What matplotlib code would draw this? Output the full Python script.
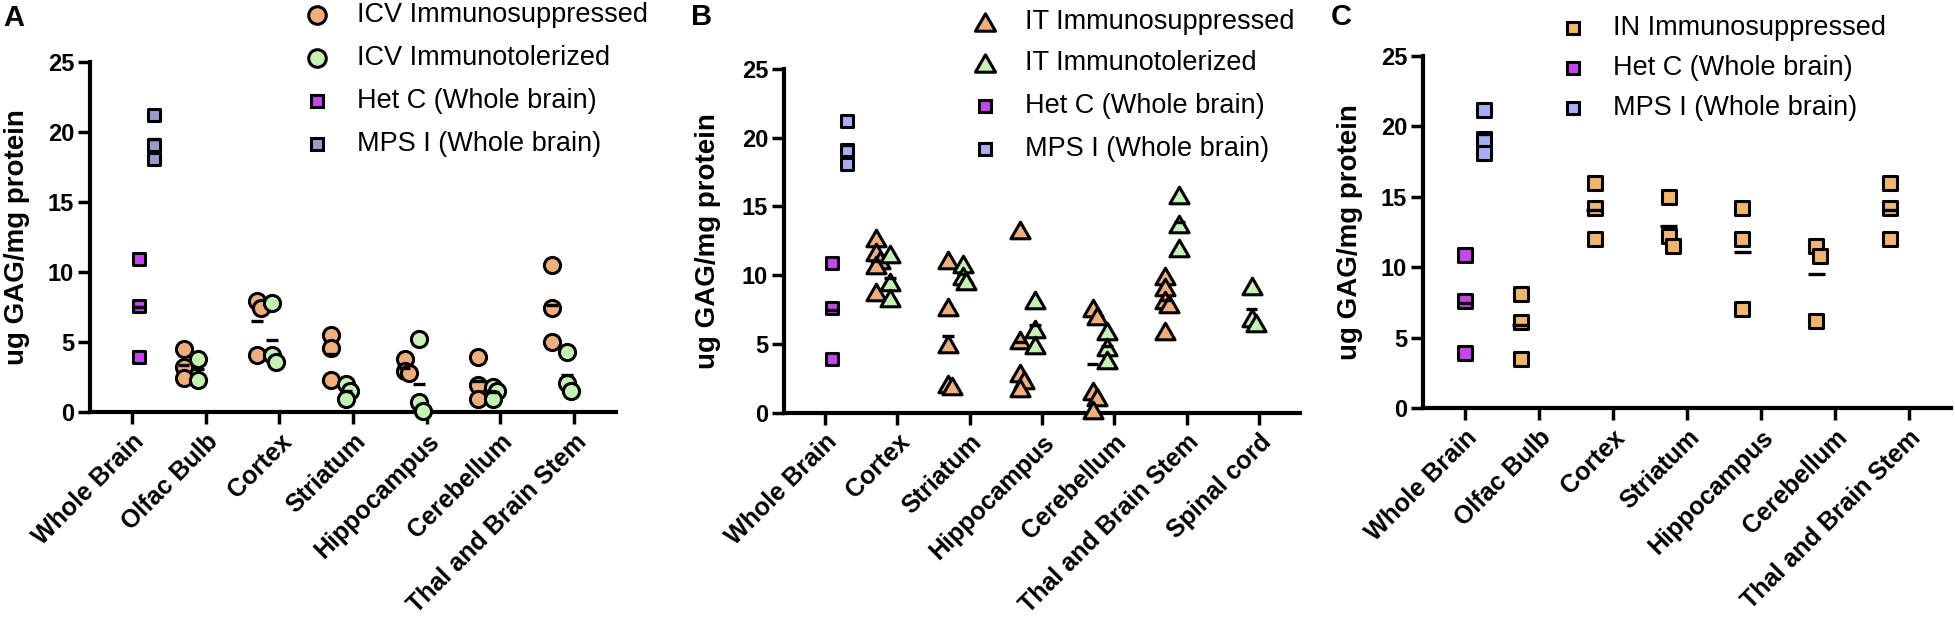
import numpy as np
import matplotlib.pyplot as plt
from matplotlib.lines import Line2D
from matplotlib.path import Path

plt.rcParams['font.family'] = ['Liberation Sans', 'DejaVu Sans']

# x categories
regions_ac = ['Whole Brain', 'Olfac Bulb', 'Cortex', 'Striatum',
              'Hippocampus', 'Cerebellum', 'Thal and Brain Stem']
regions_b = ['Whole Brain', 'Cortex', 'Striatum', 'Hippocampus',
             'Cerebellum', 'Thal and Brain Stem', 'Spinal cord']

# whole brain controls, same in every panel
het_c = [10.9, 7.6, 3.9]
mps_i = [21.2, 19.1, 18.1]

# A - ICV
icv_supp = {
    'Olfac Bulb': [4.5, 3.2, 2.4],
    'Cortex': [7.9, 7.4, 4.1],
    'Striatum': [5.5, 4.6, 2.3],
    'Hippocampus': [3.8, 2.9, 2.8],
    'Cerebellum': [3.9, 1.9, 0.9],
    'Thal and Brain Stem': [10.5, 7.4, 5.0],
}
icv_tol = {
    'Olfac Bulb': [3.8, 2.3],
    'Cortex': [7.8, 4.1, 3.6],
    'Striatum': [2.0, 1.5, 0.9],
    'Hippocampus': [5.2, 0.7, 0.1],
    'Cerebellum': [1.8, 1.5, 0.9],
    'Thal and Brain Stem': [4.3, 2.1, 1.5],
}

# B - IT
it_supp = {
    'Cortex': [12.7, 11.7, 11.1, 10.7, 8.8],
    'Striatum': [11.1, 7.7, 5.0, 2.1, 1.9],
    'Hippocampus': [13.3, 5.3, 2.9, 2.4, 1.8],
    'Cerebellum': [7.6, 7.0, 1.6, 1.1, 0.2],
    'Thal and Brain Stem': [9.9, 9.1, 8.2, 7.9, 5.9],
}
it_tol = {
    'Cortex': [11.5, 9.5, 8.3],
    'Striatum': [10.8, 9.9, 9.6],
    'Hippocampus': [8.2, 6.1, 4.9],
    'Cerebellum': [5.9, 4.8, 3.8],
    'Thal and Brain Stem': [15.8, 13.7, 12.0],
    'Spinal cord': [9.2, 6.9, 6.5],
}

# C - IN
in_supp = {
    'Olfac Bulb': [8.1, 6.1, 3.5],
    'Cortex': [16.0, 14.2, 12.0],
    'Striatum': [15.0, 12.2, 11.5],
    'Hippocampus': [14.2, 12.0, 7.0],
    'Cerebellum': [11.5, 10.8, 6.2],
    'Thal and Brain Stem': [16.0, 14.2, 12.0],
}

W, H = 1955, 626

orange = '#F2AE78'
orange_c = '#F3B666'
green = '#C2F3B0'
purple = '#C844F2'
mps_a = '#9A9AD0'
mps_bc = '#A6AEF8'

tri = Path([(0, 0.866), (-1, -0.866), (1, -0.866), (0, 0.866)],
           [Path.MOVETO, Path.LINETO, Path.LINETO, Path.CLOSEPOLY])


def spread(vals, step=0.055, gap=0.8):
    # small sideways shift for points that would sit on top of each other
    placed, offs = [], []
    for v in vals:
        for k in (0, 1, -1, 2, -2, 3, -3):
            o = k * step
            if all(abs(v - pv) >= gap or abs(o - po) > step * 0.5 for pv, po in placed):
                break
        placed.append((v, o))
        offs.append(o)
    return np.array(offs)


def draw_panel(ax, regions, series, half_w):
    for i, (data, off, marker, size, color) in enumerate(series):
        for name, vals in data.items():
            x0 = regions.index(name) + off
            ax.scatter(x0 + spread(vals), vals, s=size, marker=marker, c=color,
                       edgecolors='black', linewidths=2.2, zorder=3 + 2 * i,
                       clip_on=False)
            ax.hlines(np.mean(vals), x0 - half_w, x0 + half_w, colors='black',
                      linewidth=2.4, zorder=4 + 2 * i)

    ax.set_xlim(-0.57, len(regions) - 0.43)
    ax.set_ylim(0, 25)
    ax.set_yticks(range(0, 26, 5))
    ax.set_xticks(range(len(regions)))
    ax.set_xticklabels(regions, rotation=45, ha='right', va='top',
                       rotation_mode='anchor', fontsize=18, fontweight='bold')
    for lab in ax.get_yticklabels():
        lab.set_fontweight('bold')
        lab.set_fontsize(17)
    for s in ['top', 'right']:
        ax.spines[s].set_visible(False)
    for s in ['left', 'bottom']:
        ax.spines[s].set_linewidth(3)
        ax.spines[s].set_capstyle('projecting')
    ax.tick_params(length=8.5, width=2.5, direction='out')
    ax.tick_params(axis='x', pad=4)
    ax.tick_params(axis='y', pad=3)


def legend(fig, entries, xm, xt, rows):
    for (label, marker, size, color), y in zip(entries, rows):
        fig.add_artist(Line2D([xm / W], [1 - y / H], transform=fig.transFigure,
                              marker=marker, markersize=np.sqrt(size),
                              markerfacecolor=color, markeredgecolor='black',
                              markeredgewidth=2.2, linestyle='none'))
        fig.text(xt / W, 1 - y / H, label, fontsize=19.5, ha='left', va='center')


fig = plt.figure(figsize=(W / 100, H / 100), dpi=100)

# panel A
ax_a = fig.add_axes([90 / W, 1 - 412 / H, 526 / W, 350 / H])
series_a = [
    (icv_supp, -0.3, 'o', 135, orange),
    (icv_tol, -0.1, 'o', 135, green),
    ({'Whole Brain': het_c}, 0.1, 's', 85, purple),
    ({'Whole Brain': mps_i}, 0.3, 's', 85, mps_a),
]
draw_panel(ax_a, regions_ac, series_a, 0.08)
legend(fig, [('ICV Immunosuppressed', 'o', 160, orange),
             ('ICV Immunotolerized', 'o', 160, green),
             ('Het C (Whole brain)', 's', 85, purple),
             ('MPS I (Whole brain)', 's', 85, mps_a)],
       317, 357, [15, 58, 101, 144])

# panel B
ax_b = fig.add_axes([784 / W, 1 - 412.5 / H, 516 / W, 343.5 / H])
series_b = [
    (it_supp, -0.3, tri, 190, orange),
    (it_tol, -0.1, tri, 190, green),
    ({'Whole Brain': het_c}, 0.1, 's', 70, purple),
    ({'Whole Brain': mps_i}, 0.3, 's', 70, mps_bc),
]
draw_panel(ax_b, regions_b, series_b, 0.08)
legend(fig, [('IT Immunosuppressed', tri, 210, orange),
             ('IT Immunotolerized', tri, 210, green),
             ('Het C (Whole brain)', 's', 75, purple),
             ('MPS I (Whole brain)', 's', 75, mps_bc)],
       985, 1025, [22, 63, 106, 149])

# panel C
ax_c = fig.add_axes([1423 / W, 1 - 408 / H, 528 / W, 352 / H])
series_c = [
    (in_supp, -0.25, 's', 100, orange_c),
    ({'Whole Brain': het_c}, 0.0, 's', 100, purple),
    ({'Whole Brain': mps_i}, 0.25, 's', 100, mps_bc),
]
draw_panel(ax_c, regions_ac, series_c, 0.11)
legend(fig, [('IN Immunosuppressed', 's', 85, orange_c),
             ('Het C (Whole brain)', 's', 85, purple),
             ('MPS I (Whole brain)', 's', 85, mps_bc)],
       1573, 1613, [28, 68, 108])

# y labels and panel letters
for x, y in [(17, 237), (708, 241), (1350, 232)]:
    fig.text(x / W, 1 - y / H, 'ug GAG/mg protein', rotation=90, fontsize=20,
             fontweight='bold', ha='center', va='center')
for letter, x, y in [('A', 14, 18), ('B', 702, 17), ('C', 1341, 17)]:
    fig.text(x / W, 1 - y / H, letter, fontsize=21, fontweight='bold',
             ha='center', va='center')

fig.savefig('out.png', dpi=100)
